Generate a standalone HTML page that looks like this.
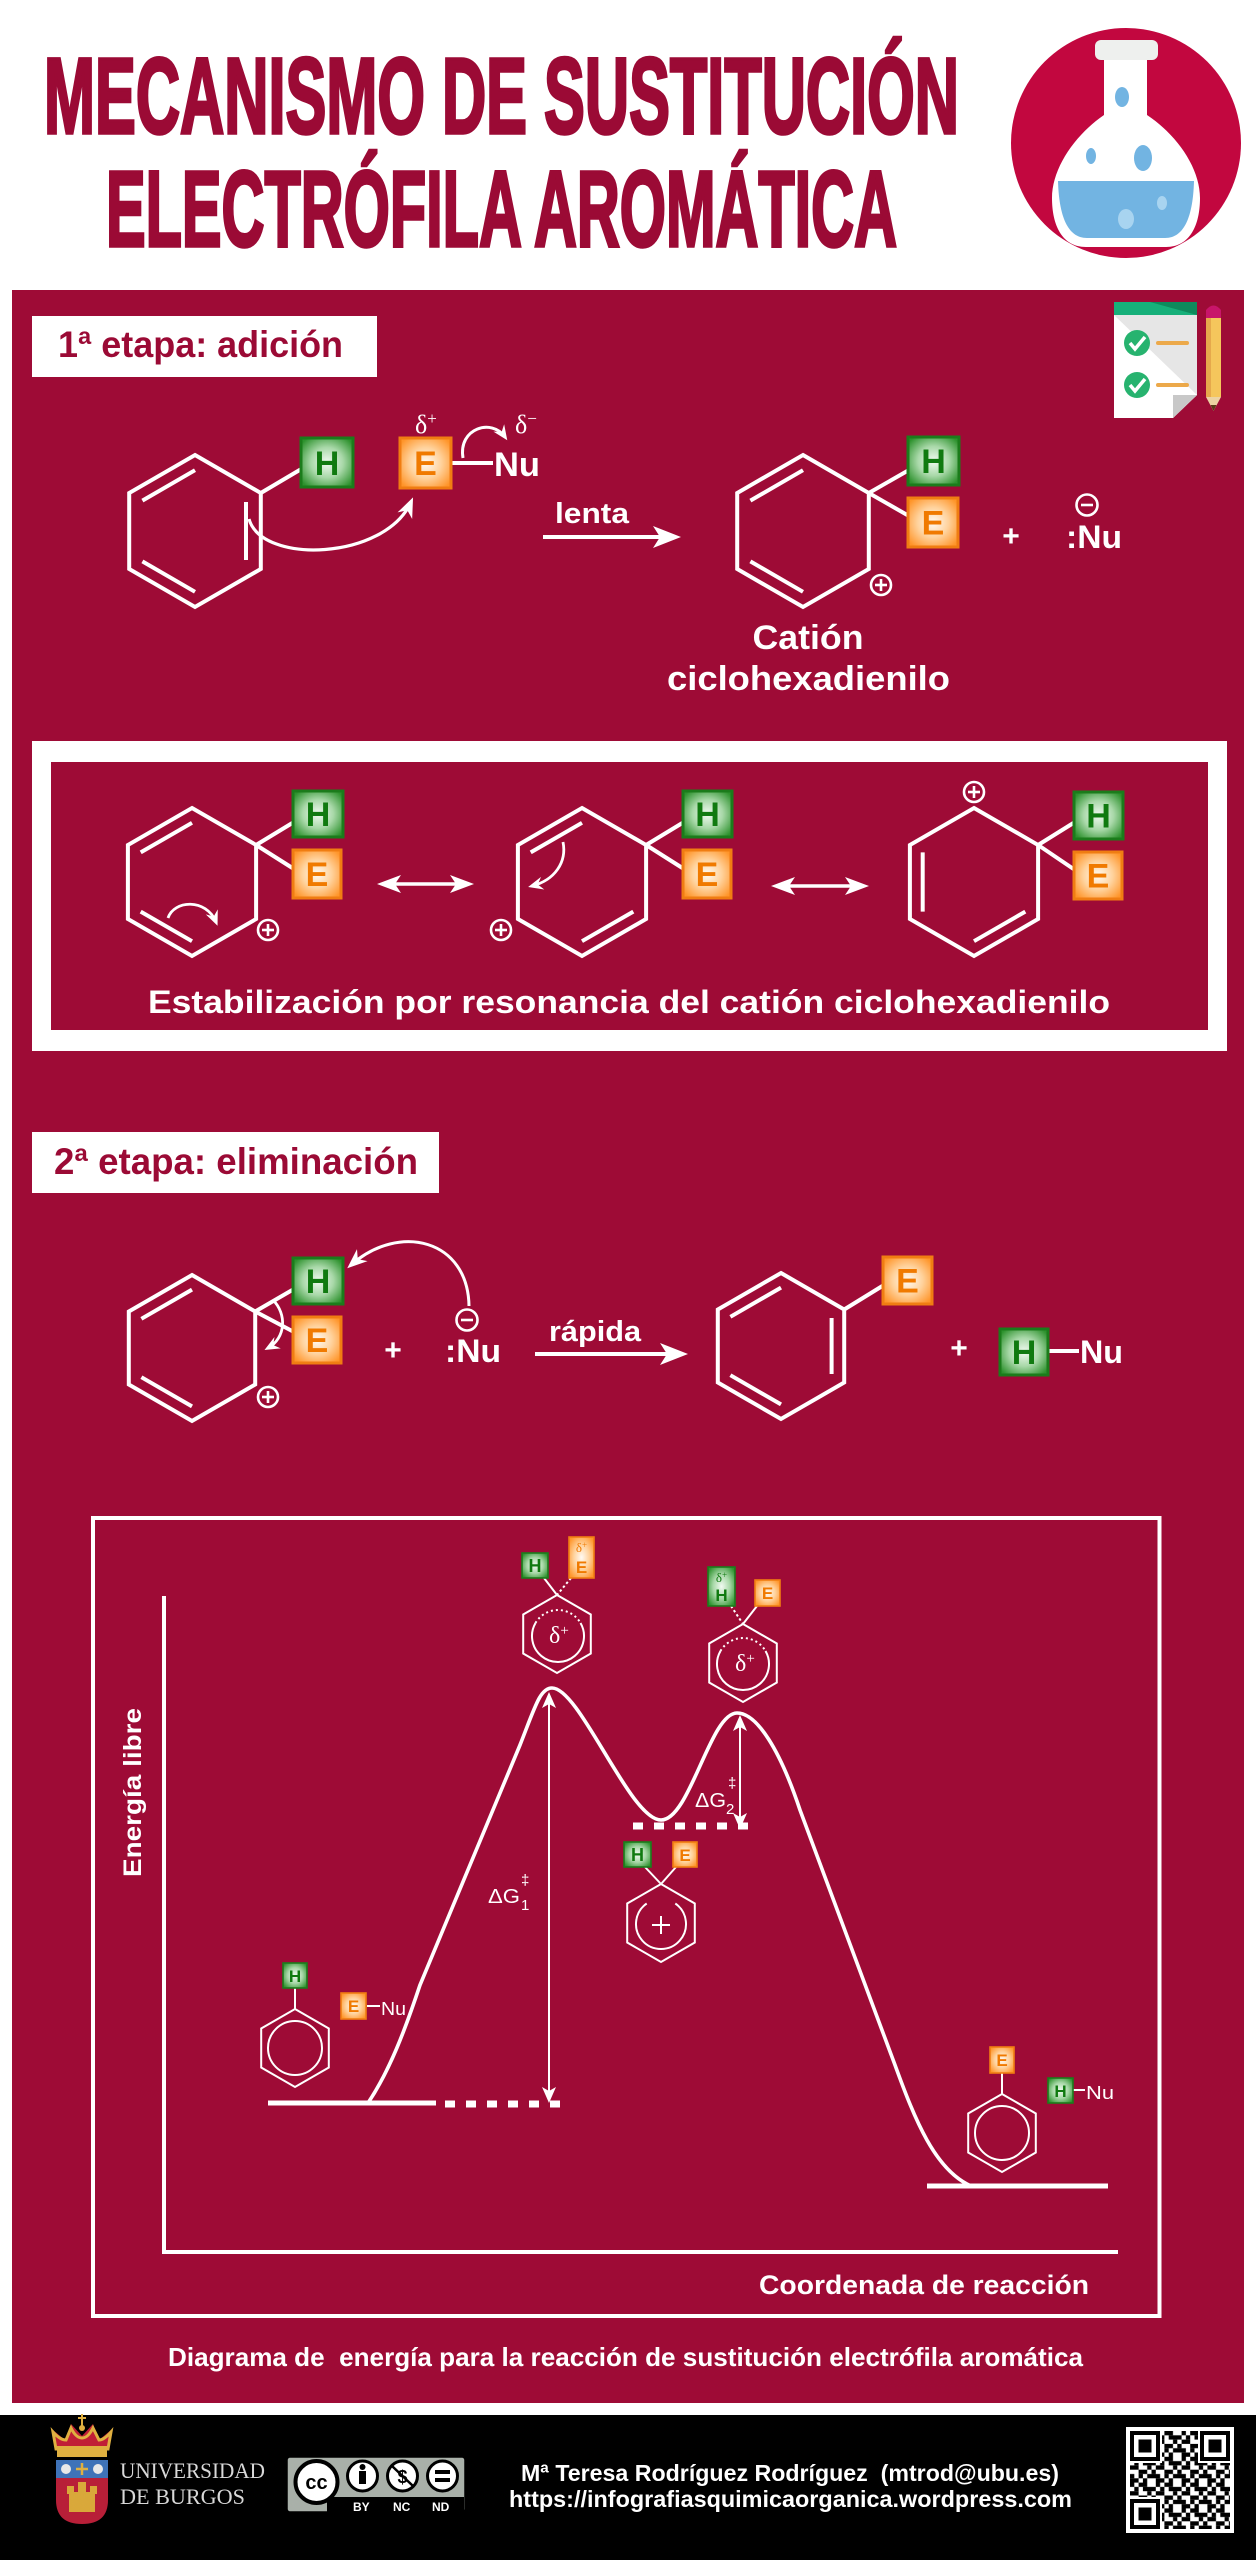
<!DOCTYPE html>
<html><head><meta charset="utf-8"><title>Mecanismo de sustitución electrófila aromática</title>
<style>
html,body{margin:0;padding:0;background:#fff;}
svg{display:block;}
</style></head><body>
<svg width="1256" height="2560" viewBox="0 0 1256 2560" xmlns="http://www.w3.org/2000/svg" font-family="Liberation Sans, Arial, sans-serif">
<defs>
 <radialGradient id="gH" cx="50%" cy="50%" r="62%">
  <stop offset="0" stop-color="#f2faf2"/><stop offset="0.5" stop-color="#a8d8a8"/><stop offset="1" stop-color="#2e922e"/>
 </radialGradient>
 <radialGradient id="gE" cx="50%" cy="50%" r="62%">
  <stop offset="0" stop-color="#fffaf3"/><stop offset="0.5" stop-color="#ffd29c"/><stop offset="1" stop-color="#ff952a"/>
 </radialGradient>
 <marker id="ah" viewBox="-24 -10 26 20" refX="-5" refY="0" markerWidth="26" markerHeight="20" markerUnits="userSpaceOnUse" orient="auto">
  <path d="M0,0 L-20,-8 L-14,0 L-20,8 Z" fill="#fff"/>
 </marker>
 <marker id="ahs" viewBox="-18 -8 20 16" refX="-4" refY="0" markerWidth="20" markerHeight="16" markerUnits="userSpaceOnUse" orient="auto">
  <path d="M0,0 L-15,-6.5 L-10,0 L-15,6.5 Z" fill="#fff"/>
 </marker>
 <pattern id="qr" x="1130" y="2431" width="25.8" height="25.8" patternUnits="userSpaceOnUse">
  <rect width="25.8" height="25.8" fill="#fff"/>
  <g fill="#000">
   <rect x="0" y="0" width="4.3" height="4.3"/><rect x="8.6" y="0" width="8.6" height="4.3"/>
   <rect x="4.3" y="4.3" width="4.3" height="4.3"/><rect x="12.9" y="4.3" width="12.9" height="4.3"/>
   <rect x="0" y="8.6" width="8.6" height="4.3"/><rect x="17.2" y="8.6" width="4.3" height="4.3"/>
   <rect x="8.6" y="12.9" width="8.6" height="4.3"/><rect x="21.5" y="12.9" width="4.3" height="4.3"/>
   <rect x="0" y="17.2" width="4.3" height="4.3"/><rect x="8.6" y="17.2" width="4.3" height="4.3"/><rect x="17.2" y="17.2" width="8.6" height="4.3"/>
   <rect x="0" y="21.5" width="8.6" height="4.3"/><rect x="12.9" y="21.5" width="4.3" height="4.3"/>
  </g>
 </pattern>
</defs>

<rect x="0" y="0" width="1256" height="2560" fill="#fff"/>

<!-- HEADER -->
<text x="44" y="133" font-size="108" font-weight="bold" fill="#9b0a35" stroke="#9b0a35" stroke-width="3.5" textLength="915" lengthAdjust="spacingAndGlyphs" font-family="Liberation Sans Narrow, Liberation Sans, sans-serif">MECANISMO DE SUSTITUCIÓN</text>
<text x="106" y="246" font-size="108" font-weight="bold" fill="#9b0a35" stroke="#9b0a35" stroke-width="3.5" textLength="791" lengthAdjust="spacingAndGlyphs" font-family="Liberation Sans Narrow, Liberation Sans, sans-serif">ELECTRÓFILA AROMÁTICA</text>

<circle cx="1126" cy="143" r="115" fill="#c2073f"/>
<path d="M1104 108 L1104 115 C1075 135,1052 168,1052 198 C1052 225,1062 247,1086 247 L1166 247 C1190 247,1200 225,1200 198 C1200 168,1177 135,1147 115 L1147 108 Z" fill="#fff"/>
<rect x="1104" y="56" width="43" height="58" fill="#fff"/>
<rect x="1095" y="40" width="63" height="20" rx="6" fill="#eef0ee"/>
<path d="M1058 181 L1194 181 C1193 215,1185 238,1165 238 L1087 238 C1067 238,1059 215,1058 181 Z" fill="#72b4e2"/>
<ellipse cx="1122" cy="97" rx="7" ry="10" fill="#72b4e2"/>
<ellipse cx="1091" cy="156" rx="5" ry="8" fill="#72b4e2"/>
<ellipse cx="1143" cy="158" rx="9" ry="13" fill="#72b4e2"/>
<ellipse cx="1162" cy="203" rx="5" ry="7" fill="#a8d4f0"/>
<ellipse cx="1126" cy="219" rx="8" ry="10" fill="#a8d4f0"/>

<!-- PANEL -->
<rect x="12" y="290" width="1232" height="2113" fill="#9e0b36"/>

<!-- Stage 1 label -->
<rect x="32" y="316" width="345" height="61" fill="#fff"/>
<text x="58" y="357" font-size="37" font-weight="bold" fill="#9b0a35" textLength="285" lengthAdjust="spacingAndGlyphs">1ª etapa: adición</text>

<!-- checklist icon -->
<polygon points="1114,302 1197,302 1197,395 1173,418 1114,418" fill="#e6e6e6"/>
<polygon points="1114,315 1114,418 1173,418 1197,395" fill="#fff"/>
<rect x="1114" y="302" width="83" height="13" fill="#17b07a"/>
<polygon points="1150,302 1197,302 1197,315" fill="#0e8a5c"/>
<polygon points="1173,418 1173,395 1197,395" fill="#c8c8c8"/>
<circle cx="1137" cy="343" r="13" fill="#27b36f"/>
<circle cx="1137" cy="385" r="13" fill="#27b36f"/>
<path d="M1130 343 L1135 349 L1145 337 M1130 385 L1135 391 L1145 379" stroke="#fff" stroke-width="3.5" fill="none"/>
<line x1="1158" y1="343" x2="1187" y2="343" stroke="#eca94a" stroke-width="4" stroke-linecap="round"/>
<line x1="1158" y1="385" x2="1187" y2="385" stroke="#eca94a" stroke-width="4" stroke-linecap="round"/>
<rect x="1206" y="318" width="15" height="79" fill="#f5c65c"/>
<rect x="1206" y="318" width="5" height="79" fill="#e6a94c"/>
<path d="M1206 318 V310 Q1213.5 301 1221 310 V318 Z" fill="#c8156a"/>
<polygon points="1206,397 1221,397 1213.5,411" fill="#ecd3a3"/>
<polygon points="1210.5,405 1216.5,405 1213.5,411" fill="#5a3a1a"/>

<!-- Stage 1 molecules -->
<g stroke="#fff" stroke-width="4" fill="none">
 <polygon points="195,455 260.8,493 260.8,569 195,607 129.2,569 129.2,493"/>
 <line x1="142.4" y1="500.6" x2="195" y2="470.2"/>
 <line x1="142.4" y1="561.4" x2="195" y2="591.8"/>
 <line x1="246" y1="502" x2="246" y2="560"/>
 <line x1="260.8" y1="493" x2="303" y2="468"/>
 <line x1="451" y1="463" x2="493" y2="463"/>
 <polygon points="803,455 868.8,493 868.8,569 803,607 737.2,569 737.2,493"/>
 <line x1="750.4" y1="500.6" x2="803" y2="470.2"/>
 <line x1="750.4" y1="561.4" x2="803" y2="591.8"/>
 <line x1="868.8" y1="493" x2="909" y2="470"/>
 <line x1="868.8" y1="493" x2="909" y2="516"/>
 <line x1="543" y1="537" x2="664" y2="537"/>
</g>
<polygon points="681,537 653,526 660,537 653,548" fill="#fff"/>
<path d="M249 519 C262 565,385 560,411 502" stroke="#fff" stroke-width="3.2" fill="none" marker-end="url(#ah)"/>
<path d="M463 458 C458 428,492 418,505 437" stroke="#fff" stroke-width="3" fill="none" marker-end="url(#ahs)"/>
<rect x="301" y="438" width="52" height="49" fill="url(#gH)" stroke="#1b7c1b" stroke-width="3"/>
<text x="327" y="475" text-anchor="middle" font-size="34" font-weight="bold" fill="#107a10">H</text>
<rect x="400" y="438" width="51" height="50" fill="url(#gE)" stroke="#f07d12" stroke-width="3"/>
<text x="425.5" y="475" text-anchor="middle" font-size="34" font-weight="bold" fill="#f07a00">E</text>
<text x="415" y="433" font-family="Liberation Serif, serif" font-size="26" fill="#fff">δ<tspan dy="-9" font-size="17">+</tspan></text>
<text x="515" y="433" font-family="Liberation Serif, serif" font-size="26" fill="#fff">δ<tspan dy="-9" font-size="17">−</tspan></text>
<text x="494" y="476" font-size="34" font-weight="bold" fill="#fff" textLength="46" lengthAdjust="spacingAndGlyphs">Nu</text>
<text x="555" y="523" font-size="29" font-weight="bold" fill="#fff" textLength="74" lengthAdjust="spacingAndGlyphs">lenta</text>

<rect x="908" y="437" width="51" height="48" fill="url(#gH)" stroke="#1b7c1b" stroke-width="3"/>
<text x="933.5" y="473" text-anchor="middle" font-size="34" font-weight="bold" fill="#107a10">H</text>
<rect x="908" y="498" width="50" height="49" fill="url(#gE)" stroke="#f07d12" stroke-width="3"/>
<text x="933" y="534.5" text-anchor="middle" font-size="34" font-weight="bold" fill="#f07a00">E</text>
<g stroke="#fff" stroke-width="2.6" fill="none">
 <circle cx="881" cy="585" r="10"/><line x1="875" y1="585" x2="887" y2="585"/><line x1="881" y1="579" x2="881" y2="591"/>
 <circle cx="1087" cy="505" r="10.5"/><line x1="1081" y1="505" x2="1093" y2="505"/>
</g>
<text x="1011" y="546" text-anchor="middle" font-size="30" font-weight="bold" fill="#fff">+</text>
<text x="1066" y="548" font-size="32" font-weight="bold" fill="#fff" textLength="56" lengthAdjust="spacingAndGlyphs">:Nu</text>
<text x="808" y="649" text-anchor="middle" font-size="34" font-weight="bold" fill="#fff" textLength="111" lengthAdjust="spacingAndGlyphs">Catión</text>
<text x="667" y="690" font-size="34" font-weight="bold" fill="#fff" textLength="283" lengthAdjust="spacingAndGlyphs">ciclohexadienilo</text>

<!-- Resonance box -->
<rect x="32" y="741" width="1195" height="310" fill="#fff"/>
<rect x="51" y="762" width="1157" height="268" fill="#9e0b36"/>
<g stroke="#fff" stroke-width="4" fill="none">
 <polygon points="192,808 256.1,845 256.1,919 192,956 127.9,919 127.9,845"/>
 <line x1="140.7" y1="852.4" x2="192" y2="822.8"/>
 <line x1="140.7" y1="911.6" x2="192" y2="941.2"/>
 <line x1="256.1" y1="845" x2="294" y2="822"/>
 <line x1="256.1" y1="845" x2="294" y2="869"/>
 <polygon points="582,808 646.1,845 646.1,919 582,956 517.9,919 517.9,845"/>
 <line x1="530.7" y1="852.4" x2="582" y2="822.8"/>
 <line x1="633.3" y1="911.6" x2="582" y2="941.2"/>
 <line x1="646.1" y1="845" x2="684" y2="822"/>
 <line x1="646.1" y1="845" x2="684" y2="869"/>
 <polygon points="974,808 1038.1,845 1038.1,919 974,956 909.9,919 909.9,845"/>
 <line x1="922.7" y1="852.4" x2="922.7" y2="911.6"/>
 <line x1="1025.3" y1="911.6" x2="974" y2="941.2"/>
 <line x1="1038.1" y1="845" x2="1075" y2="822"/>
 <line x1="1038.1" y1="845" x2="1075" y2="870"/>
</g>
<g stroke="#fff" stroke-width="3.5">
 <line x1="392" y1="884" x2="459" y2="884"/>
 <line x1="786" y1="886" x2="854" y2="886"/>
</g>
<g fill="#fff">
 <polygon points="377,884 401,875 395,884 401,893"/>
 <polygon points="474,884 450,875 456,884 450,893"/>
 <polygon points="771,886 795,877 789,886 795,895"/>
 <polygon points="869,886 845,877 851,886 845,895"/>
</g>
<path d="M168 918 C174 900,206 898,216 922" stroke="#fff" stroke-width="2.8" fill="none" marker-end="url(#ahs)"/>
<path d="M563 842 C567 862,555 880,532 886" stroke="#fff" stroke-width="2.8" fill="none" marker-end="url(#ahs)"/>
<g stroke="#fff" stroke-width="2.6" fill="none">
 <circle cx="268" cy="930" r="10"/><line x1="262" y1="930" x2="274" y2="930"/><line x1="268" y1="924" x2="268" y2="936"/>
 <circle cx="501" cy="930" r="10"/><line x1="495" y1="930" x2="507" y2="930"/><line x1="501" y1="924" x2="501" y2="936"/>
 <circle cx="974" cy="792" r="10"/><line x1="968" y1="792" x2="980" y2="792"/><line x1="974" y1="786" x2="974" y2="798"/>
</g>
<rect x="293" y="791" width="50" height="46" fill="url(#gH)" stroke="#1b7c1b" stroke-width="3"/>
<text x="318" y="826" text-anchor="middle" font-size="34" font-weight="bold" fill="#107a10">H</text>
<rect x="293" y="850" width="48" height="48" fill="url(#gE)" stroke="#f07d12" stroke-width="3"/>
<text x="317" y="886" text-anchor="middle" font-size="34" font-weight="bold" fill="#f07a00">E</text>
<rect x="683" y="791" width="49" height="46" fill="url(#gH)" stroke="#1b7c1b" stroke-width="3"/>
<text x="707.5" y="826" text-anchor="middle" font-size="34" font-weight="bold" fill="#107a10">H</text>
<rect x="683" y="850" width="48" height="48" fill="url(#gE)" stroke="#f07d12" stroke-width="3"/>
<text x="707" y="886" text-anchor="middle" font-size="34" font-weight="bold" fill="#f07a00">E</text>
<rect x="1074" y="792" width="49" height="47" fill="url(#gH)" stroke="#1b7c1b" stroke-width="3"/>
<text x="1098.5" y="827.5" text-anchor="middle" font-size="34" font-weight="bold" fill="#107a10">H</text>
<rect x="1074" y="852" width="48" height="47" fill="url(#gE)" stroke="#f07d12" stroke-width="3"/>
<text x="1098" y="887.5" text-anchor="middle" font-size="34" font-weight="bold" fill="#f07a00">E</text>
<text x="148" y="1013" font-size="32" font-weight="bold" fill="#fff" textLength="962" lengthAdjust="spacingAndGlyphs">Estabilización por resonancia del catión ciclohexadienilo</text>

<!-- Stage 2 label -->
<rect x="32" y="1132" width="407" height="61" fill="#fff"/>
<text x="54" y="1174" font-size="37" font-weight="bold" fill="#9b0a35" textLength="364" lengthAdjust="spacingAndGlyphs">2ª etapa: eliminación</text>

<!-- Stage 2 molecules -->
<g stroke="#fff" stroke-width="4" fill="none">
 <polygon points="192,1275 255.2,1311.5 255.2,1384.5 192,1421 128.8,1384.5 128.8,1311.5"/>
 <line x1="141.4" y1="1318.8" x2="192" y2="1289.6"/>
 <line x1="141.4" y1="1377.2" x2="192" y2="1406.4"/>
 <line x1="255.2" y1="1311.5" x2="294" y2="1289"/>
 <line x1="255.2" y1="1311.5" x2="294" y2="1332"/>
 <polygon points="781,1273 844.2,1309.5 844.2,1382.5 781,1419 717.8,1382.5 717.8,1309.5"/>
 <line x1="730.4" y1="1316.8" x2="781" y2="1287.6"/>
 <line x1="730.4" y1="1375.2" x2="781" y2="1404.4"/>
 <line x1="831.6" y1="1318" x2="831.6" y2="1374"/>
 <line x1="844.2" y1="1309.5" x2="884" y2="1285"/>
 <line x1="1048" y1="1351" x2="1079" y2="1351"/>
 <line x1="535" y1="1354" x2="671" y2="1354"/>
</g>
<polygon points="688,1354 660,1343 667,1354 660,1365" fill="#fff"/>
<path d="M273 1300 C287 1314,286 1338,268 1348" stroke="#fff" stroke-width="2.8" fill="none" marker-end="url(#ahs)"/>
<path d="M469 1306 C468 1240,400 1222,351 1265" stroke="#fff" stroke-width="3" fill="none" marker-end="url(#ah)"/>
<g stroke="#fff" stroke-width="2.6" fill="none">
 <circle cx="268" cy="1397" r="10"/><line x1="262" y1="1397" x2="274" y2="1397"/><line x1="268" y1="1391" x2="268" y2="1403"/>
 <circle cx="467" cy="1320" r="10.5"/><line x1="461" y1="1320" x2="473" y2="1320"/>
</g>
<rect x="293" y="1258" width="50" height="46" fill="url(#gH)" stroke="#1b7c1b" stroke-width="3"/>
<text x="318" y="1293" text-anchor="middle" font-size="34" font-weight="bold" fill="#107a10">H</text>
<rect x="293" y="1317" width="48" height="46" fill="url(#gE)" stroke="#f07d12" stroke-width="3"/>
<text x="317" y="1352" text-anchor="middle" font-size="34" font-weight="bold" fill="#f07a00">E</text>
<text x="393" y="1360" text-anchor="middle" font-size="30" font-weight="bold" fill="#fff">+</text>
<text x="445" y="1362" font-size="32" font-weight="bold" fill="#fff" textLength="56" lengthAdjust="spacingAndGlyphs">:Nu</text>
<text x="549" y="1341" font-size="29" font-weight="bold" fill="#fff" textLength="92" lengthAdjust="spacingAndGlyphs">rápida</text>
<rect x="883" y="1257" width="49" height="47" fill="url(#gE)" stroke="#f07d12" stroke-width="3"/>
<text x="907.5" y="1292.5" text-anchor="middle" font-size="34" font-weight="bold" fill="#f07a00">E</text>
<text x="959" y="1358" text-anchor="middle" font-size="30" font-weight="bold" fill="#fff">+</text>
<rect x="1000" y="1329" width="48" height="46" fill="url(#gH)" stroke="#1b7c1b" stroke-width="3"/>
<text x="1024" y="1364" text-anchor="middle" font-size="34" font-weight="bold" fill="#107a10">H</text>
<text x="1080" y="1363" font-size="32" font-weight="bold" fill="#fff" textLength="43" lengthAdjust="spacingAndGlyphs">Nu</text>

<!-- ENERGY DIAGRAM -->
<rect x="93" y="1518" width="1066.5" height="798" fill="none" stroke="#fff" stroke-width="4"/>
<line x1="164" y1="1596" x2="164" y2="2254" stroke="#fff" stroke-width="4"/>
<line x1="162" y1="2252" x2="1118" y2="2252" stroke="#fff" stroke-width="4"/>
<text transform="translate(141,1877) rotate(-90)" font-size="25" font-weight="bold" fill="#fff" textLength="169" lengthAdjust="spacingAndGlyphs">Energía libre</text>
<text x="759" y="2294" font-size="27" font-weight="bold" fill="#fff" textLength="330" lengthAdjust="spacingAndGlyphs">Coordenada de reacción</text>

<!-- curve -->
<path d="M368 2103 C390 2070,405 2030,420 1985 L520 1745 C535 1707,540 1688,552 1688 C580 1688,630 1820,661 1820 C690 1820,710 1713,737 1713 C757 1713,780 1750,800 1810 L895 2065 C915 2120,935 2170,971 2186" stroke="#fff" stroke-width="3.6" fill="none"/>
<g stroke="#fff" stroke-width="5">
 <line x1="268" y1="2103" x2="436" y2="2103"/>
 <line x1="927" y1="2186" x2="1108" y2="2186"/>
</g>
<g stroke="#fff" stroke-width="7" stroke-dasharray="10 11">
 <line x1="445" y1="2104" x2="566" y2="2104"/>
 <line x1="633" y1="1826" x2="754" y2="1826"/>
</g>
<!-- ΔG arrows -->
<g stroke="#fff" stroke-width="2">
 <line x1="549" y1="1704" x2="549" y2="2092"/>
 <line x1="740" y1="1727" x2="740" y2="1818"/>
</g>
<g fill="#fff">
 <polygon points="549,1692 542,1708 549,1704 556,1708"/>
 <polygon points="549,2103 542,2087 549,2091 556,2087"/>
 <polygon points="740,1715 733,1731 740,1727 747,1731"/>
 <polygon points="740,1829 733,1813 740,1817 747,1813"/>
</g>
<text x="488" y="1903" font-size="20" fill="#fff" textLength="32" lengthAdjust="spacingAndGlyphs">ΔG</text>
<text x="521" y="1910" font-size="15" fill="#fff">1</text>
<text x="521" y="1885" font-size="15" fill="#fff">‡</text>
<text x="695" y="1807" font-size="20" fill="#fff" textLength="31" lengthAdjust="spacingAndGlyphs">ΔG</text>
<text x="726" y="1814" font-size="15" fill="#fff">2</text>
<text x="728" y="1788" font-size="15" fill="#fff">‡</text>

<!-- diagram structures -->
<g stroke="#fff" stroke-width="2" fill="none">
 <polygon points="557,1595 590.8,1614.5 590.8,1653.5 557,1673 523.2,1653.5 523.2,1614.5"/>
 <path d="M580.5 1623 A26 26 0 1 1 535.5 1623"/>
 <path d="M535.5 1623 A26 26 0 0 1 580.5 1623" stroke-dasharray="2 3"/>
 <line x1="544" y1="1578" x2="557" y2="1595"/>
 <line x1="571" y1="1578" x2="557" y2="1595" stroke-dasharray="2.5 2.5"/>

 <polygon points="743,1624 776.8,1643.5 776.8,1682.5 743,1702 709.2,1682.5 709.2,1643.5"/>
 <path d="M765.5 1651 A26 26 0 1 1 720.5 1651"/>
 <path d="M720.5 1651 A26 26 0 0 1 765.5 1651" stroke-dasharray="2 3"/>
 <line x1="731" y1="1606" x2="743" y2="1624" stroke-dasharray="2.5 2.5"/>
 <line x1="757" y1="1606" x2="743" y2="1624"/>

 <polygon points="661,1884 694.8,1903.5 694.8,1942.5 661,1962 627.2,1942.5 627.2,1903.5"/>
 <path d="M675.3 1903.5 A25 25 0 1 1 646.7 1903.5"/>
 <line x1="652" y1="1925" x2="670" y2="1925"/>
 <line x1="661" y1="1916" x2="661" y2="1934"/>
 <line x1="645" y1="1867" x2="661" y2="1884"/>
 <line x1="676" y1="1867" x2="661" y2="1884"/>

 <polygon points="295,2009 328.8,2028.5 328.8,2067.5 295,2087 261.2,2067.5 261.2,2028.5"/>
 <circle cx="295" cy="2048" r="27"/>
 <line x1="295" y1="1988" x2="295" y2="2009"/>
 <line x1="367" y1="2006" x2="380" y2="2006"/>

 <polygon points="1002,2094 1035.8,2113.5 1035.8,2152.5 1002,2172 968.2,2152.5 968.2,2113.5"/>
 <circle cx="1002" cy="2133" r="27"/>
 <line x1="1002" y1="2073" x2="1002" y2="2094"/>
 <line x1="1073" y1="2090" x2="1085" y2="2090"/>
</g>
<text x="549" y="1643" font-family="Liberation Serif, serif" font-size="24" fill="#fff">δ<tspan dy="-8" font-size="15">+</tspan></text>
<text x="735" y="1671" font-family="Liberation Serif, serif" font-size="24" fill="#fff">δ<tspan dy="-8" font-size="15">+</tspan></text>

<rect x="522" y="1553" width="26" height="25" fill="url(#gH)" stroke="#1b7c1b" stroke-width="1.6"/>
<text x="535" y="1572" text-anchor="middle" font-size="18" font-weight="bold" fill="#107a10">H</text>
<rect x="569" y="1537" width="25" height="41" fill="url(#gE)" stroke="#f07d12" stroke-width="1.6"/>
<text x="581.5" y="1552" text-anchor="middle" font-family="Liberation Serif, serif" font-size="13" fill="#f07a00">δ<tspan dy="-4" font-size="9">+</tspan></text>
<text x="581.5" y="1573" text-anchor="middle" font-size="17" font-weight="bold" fill="#f07a00">E</text>

<rect x="708" y="1567" width="27" height="39" fill="url(#gH)" stroke="#1b7c1b" stroke-width="1.6"/>
<text x="721.5" y="1582" text-anchor="middle" font-family="Liberation Serif, serif" font-size="13" fill="#107a10">δ<tspan dy="-4" font-size="9">+</tspan></text>
<text x="721.5" y="1601" text-anchor="middle" font-size="17" font-weight="bold" fill="#107a10">H</text>
<rect x="755" y="1580" width="25" height="26" fill="url(#gE)" stroke="#f07d12" stroke-width="1.6"/>
<text x="767.5" y="1599" text-anchor="middle" font-size="17" font-weight="bold" fill="#f07a00">E</text>

<rect x="624" y="1842" width="27" height="25" fill="url(#gH)" stroke="#1b7c1b" stroke-width="1.6"/>
<text x="637.5" y="1861" text-anchor="middle" font-size="18" font-weight="bold" fill="#107a10">H</text>
<rect x="673" y="1842" width="24" height="25" fill="url(#gE)" stroke="#f07d12" stroke-width="1.6"/>
<text x="685" y="1861" text-anchor="middle" font-size="17" font-weight="bold" fill="#f07a00">E</text>

<rect x="283" y="1963" width="24" height="25" fill="url(#gH)" stroke="#1b7c1b" stroke-width="1.6"/>
<text x="295" y="1982" text-anchor="middle" font-size="17" font-weight="bold" fill="#107a10">H</text>
<rect x="341" y="1993" width="25" height="26" fill="url(#gE)" stroke="#f07d12" stroke-width="1.6"/>
<text x="353.5" y="2012" text-anchor="middle" font-size="17" font-weight="bold" fill="#f07a00">E</text>
<text x="381" y="2015" font-size="18" fill="#fff" textLength="25" lengthAdjust="spacingAndGlyphs">Nu</text>

<rect x="990" y="2047" width="24" height="26" fill="url(#gE)" stroke="#f07d12" stroke-width="1.6"/>
<text x="1002" y="2066" text-anchor="middle" font-size="17" font-weight="bold" fill="#f07a00">E</text>
<rect x="1048" y="2078" width="25" height="25" fill="url(#gH)" stroke="#1b7c1b" stroke-width="1.6"/>
<text x="1060.5" y="2097" text-anchor="middle" font-size="17" font-weight="bold" fill="#107a10">H</text>
<text x="1086" y="2099" font-size="18" fill="#fff" textLength="28" lengthAdjust="spacingAndGlyphs">Nu</text>

<!-- caption -->
<text x="168" y="2366" font-size="26" font-weight="bold" fill="#fff" textLength="915" lengthAdjust="spacingAndGlyphs" style="white-space:pre">Diagrama de  energía para la reacción de sustitución electrófila aromática</text>

<!-- FOOTER -->
<rect x="0" y="2415" width="1256" height="145" fill="#000"/>
<!-- crest -->
<path d="M56 2448 L53 2430 L65 2440 L71 2424 L82 2436 L93 2424 L99 2440 L111 2430 L108 2448 Z" fill="#c01f36"/>
<path d="M56 2449 L53 2432 Q60 2440 66 2440 L71 2428 Q76 2438 82 2438 Q88 2438 93 2428 L99 2440 Q104 2440 111 2432 L108 2449 Z" fill="none" stroke="#e0b040" stroke-width="3"/>
<rect x="57" y="2446" width="50" height="11" fill="#e0b040"/>
<line x1="82" y1="2414" x2="82" y2="2426" stroke="#e0b040" stroke-width="2"/>
<line x1="78" y1="2418" x2="86" y2="2418" stroke="#e0b040" stroke-width="2"/>
<circle cx="82" cy="2428" r="3" fill="#e0b040"/>
<path d="M56 2460 H108 V2500 Q108 2524 82 2524 Q56 2524 56 2500 Z" fill="#b81f38"/>
<rect x="56" y="2460" width="52" height="18" fill="#3f73b8"/>
<circle cx="66" cy="2469" r="5" fill="#e8e8e8"/>
<circle cx="98" cy="2469" r="5" fill="#e8e8e8"/>
<path d="M82 2463 V2475 M76 2469 H88" stroke="#e0b040" stroke-width="2.5"/>
<rect x="69" y="2492" width="26" height="20" fill="#d9a83a"/>
<rect x="67" y="2486" width="7" height="8" fill="#d9a83a"/>
<rect x="90" y="2486" width="7" height="8" fill="#d9a83a"/>
<rect x="78" y="2482" width="8" height="10" fill="#d9a83a"/>
<text x="120" y="2478" font-family="Liberation Serif, serif" font-size="22" fill="#d8d8d8" textLength="145" lengthAdjust="spacingAndGlyphs">UNIVERSIDAD</text>
<text x="120" y="2504" font-family="Liberation Serif, serif" font-size="22" fill="#d8d8d8" textLength="125" lengthAdjust="spacingAndGlyphs">DE BURGOS</text>
<!-- CC badge -->
<rect x="287" y="2457" width="178" height="55" rx="3" fill="#a9b0a9" stroke="#000" stroke-width="1.5"/>
<rect x="327" y="2497" width="137" height="15" fill="#000"/>
<circle cx="316.5" cy="2482" r="21" fill="#fff" stroke="#000" stroke-width="4"/>
<text x="316.5" y="2489" text-anchor="middle" font-size="20" font-weight="bold" fill="#000">cc</text>
<circle cx="362.5" cy="2476" r="15" fill="#fff" stroke="#000" stroke-width="3"/>
<circle cx="362.5" cy="2467" r="3" fill="#000"/>
<rect x="359" y="2471" width="7" height="13" fill="#000"/>
<circle cx="402.5" cy="2476" r="15" fill="#fff" stroke="#000" stroke-width="3"/>
<text x="402.5" y="2483" text-anchor="middle" font-size="18" font-weight="bold" fill="#000">$</text>
<line x1="392" y1="2466" x2="413" y2="2486" stroke="#000" stroke-width="2.5"/>
<circle cx="442.5" cy="2476" r="15" fill="#fff" stroke="#000" stroke-width="3"/>
<rect x="435" y="2470" width="15" height="4" fill="#000"/>
<rect x="435" y="2478" width="15" height="4" fill="#000"/>
<text x="353" y="2511" font-size="12" font-weight="bold" fill="#fff">BY</text>
<text x="393" y="2511" font-size="12" font-weight="bold" fill="#fff">NC</text>
<text x="432" y="2511" font-size="12" font-weight="bold" fill="#fff">ND</text>
<!-- author -->
<text x="521" y="2481" font-size="23" fill="#fff" font-weight="bold" textLength="538" lengthAdjust="spacingAndGlyphs" style="white-space:pre">Mª Teresa Rodríguez Rodríguez  (mtrod@ubu.es)</text>
<text x="509" y="2507" font-size="23" fill="#fff" font-weight="bold" textLength="563" lengthAdjust="spacingAndGlyphs">https://infografiasquimicaorganica.wordpress.com</text>
<!-- QR -->
<rect x="1126" y="2427" width="108" height="106" fill="#fff"/>
<rect x="1130" y="2431" width="100" height="98" fill="url(#qr)"/>
<g>
 <rect x="1128" y="2429" width="34" height="34" fill="#fff"/>
 <rect x="1130" y="2431" width="30" height="30" fill="#000"/><rect x="1134" y="2435" width="22" height="22" fill="#fff"/><rect x="1138.5" y="2439.5" width="13" height="13" fill="#000"/>
 <rect x="1198" y="2429" width="34" height="34" fill="#fff"/>
 <rect x="1200" y="2431" width="30" height="30" fill="#000"/><rect x="1204" y="2435" width="22" height="22" fill="#fff"/><rect x="1208.5" y="2439.5" width="13" height="13" fill="#000"/>
 <rect x="1128" y="2497" width="34" height="34" fill="#fff"/>
 <rect x="1130" y="2499" width="30" height="30" fill="#000"/><rect x="1134" y="2503" width="22" height="22" fill="#fff"/><rect x="1138.5" y="2507.5" width="13" height="13" fill="#000"/>
</g>
</svg>
</body></html>
